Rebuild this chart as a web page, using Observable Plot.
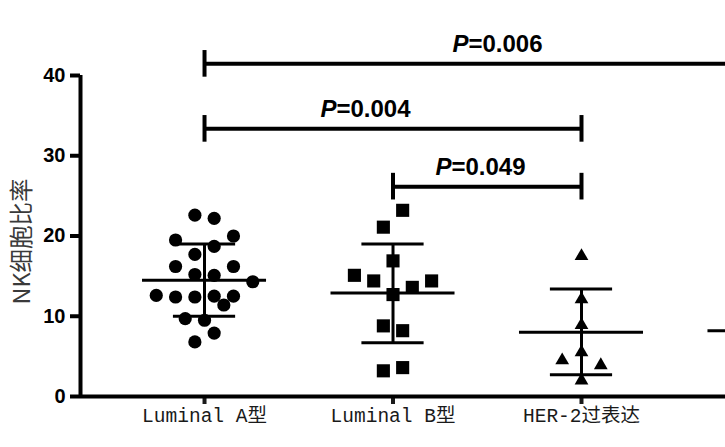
<!DOCTYPE html>
<html>
<head>
<meta charset="utf-8">
<script src="https://cdn.jsdelivr.net/npm/d3@7"></script>
<script src="https://cdn.jsdelivr.net/npm/@observablehq/plot@0.6"></script>
<style>
  html, body { margin: 0; padding: 0; background: #fff; overflow: hidden; }
  #chart svg { display: block; }
</style>
</head>
<body>
<div id="chart"></div>
<script>
// ---- data ----
const groups = ["Luminal A型", "Luminal B型", "HER-2过表达"];
const yTicks = [0, 10, 20, 30, 40];

// Luminal A (circles): values and beeswarm column
const lumAValues = [22.6, 22.2, 19.5, 20.0, 18.7, 17.7, 16.2, 16.2, 15.2, 15.1, 14.3, 12.6, 12.4, 12.4, 12.5, 12.5, 11.4, 9.7, 9.5, 7.9, 6.8];
const lumACols   = [-0.5, 0.5, -1.5, 1.5, 0.5, -0.5, -1.5, 1.5, -0.5, 0.5, 2.5, -2.5, -1.5, -0.5, 0.5, 1.5, 1, -1, 0, 0.5, -0.5];

// Luminal B (squares)
const lumBValues = [23.2, 21.1, 16.9, 15.1, 14.4, 14.4, 13.6, 12.7, 8.8, 8.2, 3.2, 3.6];
const lumBCols   = [0.5, -0.5, 0, -2, -1, 2, 1, 0, -0.5, 0.5, -0.5, 0.5];

// HER-2 overexpression (triangles)
const herValues = [17.5, 12.1, 8.9, 5.5, 4.5, 3.9, 2.0];
const herCols   = [0, 0, 0, 0, -1, 1, 0];

// mean and SD (lo / hi) per group; the 4th group lies outside the crop
const means  = [14.5, 12.9, 8.0, 8.2];
const sdLow  = [10.0, 6.7, 2.7];
const sdHigh = [19.0, 19.0, 13.4];

// significance brackets (group indices), p-values, label anchor
const bracketFrom  = [0, 0, 1];
const bracketTo    = [3, 2, 2];
const bracketY     = [41.45, 33.35, 26.15];
const bracketP     = ["0.006", "0.004", "0.049"];
const bracketLabelX = [1.40, 0.70, 1.31];

// ---- derived tables ----
const SLOT = 0.1024;       // beeswarm column width, in group units
const MEAN_HALF = 0.329;   // half length of mean line
const CAP_HALF = 0.165;    // half length of SD caps
const BR_CAP = 1.66;       // half height of bracket caps
const LABEL_GAP = 1.45;

const mk = (vals, cols, g) => vals.map((v, i) => ({g, v, x: g + cols[i] * SLOT}));
const ptsA = mk(lumAValues, lumACols, 0);
const ptsB = mk(lumBValues, lumBCols, 1);
const ptsH = mk(herValues, herCols, 2);

const stats = means.map((m, i) => ({g: i, mean: m, lo: sdLow[i], hi: sdHigh[i]}));
const sdStats = stats.filter(d => d.lo != null);

const brackets = bracketP.map((p, i) => ({
  from: bracketFrom[i], to: bracketTo[i], y: bracketY[i], p, lx: bracketLabelX[i]
}));
const bracketEnds = brackets.flatMap(b => [{x: b.from, y: b.y}, {x: b.to, y: b.y}]);

const xDomain = [-0.658, 2.764];
const yDomain = [0, 40];

const boldSans = "'Liberation Sans', Arial, Helvetica, sans-serif";

const chart = Plot.plot({
  width: 725,
  height: 447,
  marginLeft: 80,
  marginRight: 0,
  marginTop: 75,
  marginBottom: 51,
  style: {background: "#fff", color: "#000"},
  x: {domain: xDomain},
  y: {domain: yDomain},
  marks: [
    // axes
    Plot.axisY({
      ticks: yTicks, tickSize: 10, tickPadding: 5, strokeWidth: 4,
      fontSize: 20, fontWeight: "bold", fontFamily: boldSans,
      tickFormat: d => String(d), label: null, color: "#000"
    }),
    Plot.axisX({
      ticks: [0, 1, 2], tickFormat: i => groups[i], tickSize: 8, tickPadding: 4,
      strokeWidth: 4, fontSize: 19.5,
      fontFamily: "'Liberation Mono', 'Noto Sans CJK SC', monospace",
      label: null, color: "#1a1a1a"
    }),
    Plot.ruleY([yDomain[0]], {strokeWidth: 4, stroke: "#000"}),
    Plot.ruleX([xDomain[0]], {y1: yDomain[0], y2: yDomain[1], strokeWidth: 4, stroke: "#000"}),

    // y title
    Plot.text(["NK细胞比率"], {
      frameAnchor: "left", textAnchor: "middle", rotate: -90, dx: -58, dy: 5.5,
      fontSize: 23.5, fontFamily: "'Noto Sans CJK SC', sans-serif", fill: "#3a3a3a"
    }),

    // points
    Plot.dot(ptsA, {x: "x", y: "v", symbol: "circle", r: 6.6, fill: "#000"}),
    Plot.dot(ptsB, {x: "x", y: "v", symbol: "square", r: 7.4, fill: "#000"}),
    Plot.dot(ptsH, {x: "x", y: "v", symbol: "triangle", r: 5.1, fill: "#000"}),

    // mean and SD
    Plot.ruleY(stats, {y: "mean", x1: d => d.g - MEAN_HALF, x2: d => d.g + MEAN_HALF, strokeWidth: 3, stroke: "#000"}),
    Plot.ruleY(sdStats, {y: "hi", x1: d => d.g - CAP_HALF, x2: d => d.g + CAP_HALF, strokeWidth: 3, stroke: "#000"}),
    Plot.ruleY(sdStats, {y: "lo", x1: d => d.g - CAP_HALF, x2: d => d.g + CAP_HALF, strokeWidth: 3, stroke: "#000"}),
    Plot.ruleX(sdStats, {x: "g", y1: "lo", y2: "hi", strokeWidth: 3, stroke: "#000"}),

    // significance brackets
    Plot.ruleY(brackets, {y: "y", x1: "from", x2: "to", strokeWidth: 4, stroke: "#000"}),
    Plot.ruleX(bracketEnds, {x: "x", y1: d => d.y - BR_CAP, y2: d => d.y + BR_CAP, strokeWidth: 4, stroke: "#000"}),
    Plot.text(brackets, {
      x: "lx", y: d => d.y + LABEL_GAP, text: () => "P", textAnchor: "end", lineAnchor: "bottom",
      fontSize: 24, fontWeight: "bold", fontStyle: "italic", fontFamily: boldSans, fill: "#000"
    }),
    Plot.text(brackets, {
      x: "lx", y: d => d.y + LABEL_GAP, text: d => "=" + d.p, textAnchor: "start", lineAnchor: "bottom",
      fontSize: 24, fontWeight: "bold", fontFamily: boldSans, fill: "#000"
    })
  ]
});
document.getElementById("chart").appendChild(chart);
</script>
</body>
</html>
